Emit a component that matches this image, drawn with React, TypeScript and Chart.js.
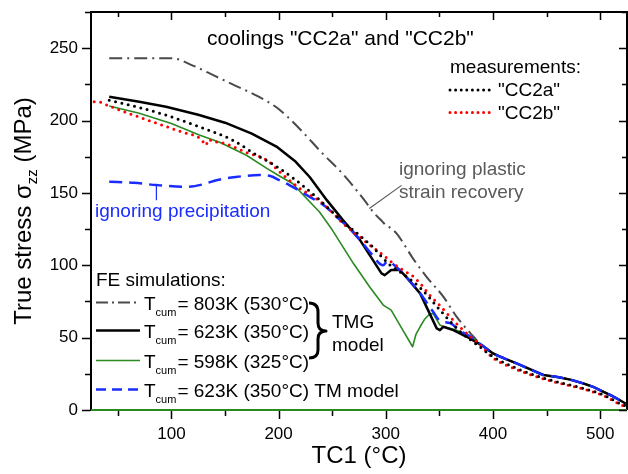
import React, { useEffect, useRef } from 'react';
import { Chart, registerables } from 'chart.js';

Chart.register(...registerables);

// ---- data (TC1 in °C, stress in MPa) ----
const x803 = [42, 70, 101, 120, 140, 160, 180, 200, 220, 240, 260, 280, 288, 297, 301, 304, 310, 326, 338, 354, 366, 379];
const y803 = [243, 243, 243, 238, 231, 224, 217, 208, 194, 178, 163, 145, 137, 130, 127, 126, 122, 104, 92, 78, 64.5, 53];

const x623 = [42, 70, 95, 125, 150, 175, 198, 216, 229, 245, 260, 276, 285, 296, 299, 305, 313, 319, 332, 347.5, 350.5, 353.6, 363, 375.5];
const y623 = [216.5, 213, 209.5, 204, 198.5, 191, 182, 171.5, 161, 145, 131.2, 117.4, 107, 94.4, 93.2, 96.7, 96.7, 92, 80.6, 56.4, 55.2, 57.5, 55.2, 50.6];

const x598 = [42, 70, 100, 126, 145, 170, 189, 200, 213, 225, 238, 250, 270, 285, 297.6, 305, 316, 325, 328, 332, 336, 340, 344, 350.5, 354, 366, 379];
const y598 = [210, 205, 198, 190, 185, 176, 167, 162, 156.5, 147, 137, 124.5, 101, 85, 72.5, 69, 55, 43.7, 52, 57.5, 62.5, 65.6, 66.8, 58.7, 57.5, 55.2, 50.6];

const xTM = [42, 65, 86, 114, 130, 142, 160, 182, 193, 200, 210, 229, 244, 254, 266, 276, 285, 297.6, 301, 304, 308, 316, 332, 344, 350, 360, 369, 381.6];
const yTM = [157.7, 157, 155.4, 154.2, 156, 158.8, 161, 162.3, 161.5, 159, 155.4, 147.3, 140.4, 133.5, 125.5, 117.5, 109.3, 100, 102.5, 102.4, 100, 94.4, 80.6, 68, 62, 60, 55, 49.5];

// common high-temperature part of all simulations
const xSimTail = [390, 395, 400, 411, 422, 435, 447, 460, 472, 484, 494, 503, 511, 518, 526];
const ySimTail = [44.5, 41.8, 39.1, 35.5, 32.2, 28, 24.2, 22.8, 21, 18.4, 15.8, 12.6, 9.8, 6.9, 3.5];

const xCC2a = [42, 70, 95, 125, 157, 182, 192, 214, 235, 245, 260, 275, 288, 296, 305, 316, 332, 350, 369, 388, 400, 422, 447, 484, 503, 518, 526];
const yCC2a = [214, 209, 203.7, 196, 186.5, 175, 171, 160, 147.3, 140.4, 130, 121, 112.5, 106, 99.5, 94, 84.5, 69.5, 54.5, 43.5, 36.8, 28.8, 22, 15, 10.4, 4.6, 2];

const xCC2b = [28, 31, 42, 60, 83, 110, 128, 132, 135, 138, 145, 170, 189, 201, 220, 229, 245, 260, 275, 285, 296, 305, 316, 326, 332, 341, 350, 360, 369, 379, 388, 400, 422, 447, 484, 503, 518, 526];
const yCC2b = [213, 213, 210, 205, 199, 192, 187, 183, 187, 185.5, 185, 178, 172.6, 164.6, 153, 149, 140.4, 129, 120, 114, 108, 102.4, 96.7, 92, 87.5, 79.4, 72.5, 64.4, 57.5, 50.6, 45, 36, 28, 21.5, 14.5, 10, 4, 1.5];

const xTicks = [50, 100, 150, 200, 250, 300, 350, 400, 450, 500];
const xLabels = [100, 200, 300, 400, 500];
const yTicks = [0, 25, 50, 75, 100, 125, 150, 175, 200, 225, 250, 275];
const yLabels = [0, 50, 100, 150, 200, 250];

const X_MIN = 25, X_MAX = 525, Y_MIN = 0, Y_MAX = 275;

const FONT = '"Liberation Sans", Arial, Helvetica, sans-serif';

const C_GREY = '#4a4a4a';
const C_BLACK = '#000000';
const C_GREEN = '#2a8a22';
const C_BLUE = '#1a2cff';
const C_RED = '#ff0000';

const DASH_DOT = [13, 5, 2, 5];
const DASH_BLUE = [13, 7];
const DOTS = [0, 6.5];

function pts(xs: number[], ys: number[]) {
  return xs.map((x, i) => ({ x, y: ys[i] }));
}

const overlay = {
  id: 'overlay',
  afterDatasetsDraw(chart: any) {
    const ctx: CanvasRenderingContext2D = chart.ctx;
    const xs = chart.scales.x;
    const ys = chart.scales.y;
    const a = chart.chartArea;
    const L = a.left, R = a.right, T = a.top, B = a.bottom;
    ctx.save();

    // frame
    ctx.lineWidth = 2;
    ctx.strokeStyle = '#000';
    ctx.beginPath();
    ctx.moveTo(L, B + 1); ctx.lineTo(L, T); ctx.lineTo(R, T); ctx.lineTo(R, B);
    ctx.stroke();
    ctx.strokeStyle = C_GREEN;
    ctx.beginPath();
    ctx.moveTo(L, B); ctx.lineTo(R, B);
    ctx.stroke();

    // ticks
    ctx.strokeStyle = '#000';
    ctx.lineWidth = 1.5;
    ctx.beginPath();
    xTicks.forEach((v) => {
      const p = Math.round(xs.getPixelForValue(v)) + 0.5;
      const major = v % 100 === 0;
      const len = major ? 8 : 5;
      ctx.moveTo(p, B + 1); ctx.lineTo(p, B + 1 + len);
      ctx.moveTo(p, T); ctx.lineTo(p, T + len);
    });
    yTicks.forEach((v) => {
      const p = Math.round(ys.getPixelForValue(v)) + 0.5;
      const major = v % 50 === 0;
      const len = major ? 8 : 5;
      ctx.moveTo(L - 1, p); ctx.lineTo(L - 1 - len, p);
      ctx.moveTo(R, p); ctx.lineTo(R - len, p);
    });
    ctx.stroke();

    // tick labels
    ctx.fillStyle = '#000';
    ctx.font = `17px ${FONT}`;
    ctx.textAlign = 'center';
    ctx.textBaseline = 'alphabetic';
    xLabels.forEach((v) => ctx.fillText(String(v), xs.getPixelForValue(v), 439));
    ctx.textAlign = 'right';
    ctx.textBaseline = 'middle';
    yLabels.forEach((v) => ctx.fillText(String(v), 78, ys.getPixelForValue(v)));

    // x title
    ctx.textAlign = 'center';
    ctx.textBaseline = 'alphabetic';
    ctx.font = `24px ${FONT}`;
    ctx.fillText('TC1 (°C)', (L + R) / 2, 463);

    // y title with subscript
    ctx.save();
    ctx.translate(31, (T + B) / 2);
    ctx.rotate(-Math.PI / 2);
    const fMain = `24px ${FONT}`;
    const fSub = `15px ${FONT}`;
    const s1 = 'True stress σ', s2 = 'zz', s3 = ' (MPa)';
    ctx.font = fMain; const w1 = ctx.measureText(s1).width; const w3 = ctx.measureText(s3).width;
    ctx.font = fSub; const w2 = ctx.measureText(s2).width;
    let cx = -(w1 + w2 + w3) / 2;
    ctx.textAlign = 'left';
    ctx.font = fMain; ctx.fillText(s1, cx, 0); cx += w1;
    ctx.font = fSub; ctx.fillText(s2, cx, 6); cx += w2;
    ctx.font = fMain; ctx.fillText(s3, cx, 0);
    ctx.restore();

    // title inside plot
    ctx.textAlign = 'left';
    ctx.font = `21px ${FONT}`;
    ctx.fillText('coolings "CC2a" and "CC2b"', 207, 45);

    // measurement legend
    ctx.font = `19px ${FONT}`;
    ctx.fillText('measurements:', 450, 73);
    ctx.fillText('"CC2a"', 498, 96);
    ctx.fillText('"CC2b"', 498, 119);
    const sample = (x0: number, x1: number, y: number, color: string, width: number, dash: number[], cap: CanvasLineCap) => {
      ctx.save();
      ctx.strokeStyle = color; ctx.lineWidth = width; ctx.setLineDash(dash); ctx.lineCap = cap;
      ctx.beginPath(); ctx.moveTo(x0, y); ctx.lineTo(x1, y); ctx.stroke();
      ctx.restore();
    };
    sample(450, 490, 90, C_BLACK, 3, [0, 5.6], 'round');
    sample(450, 490, 112.5, C_RED, 3, [0, 5.6], 'round');

    // annotation: ignoring plastic strain recovery
    ctx.fillStyle = '#5a5a5a';
    ctx.fillText('ignoring plastic', 399, 175);
    ctx.fillText('strain recovery', 399, 198);
    ctx.strokeStyle = '#5a5a5a'; ctx.lineWidth = 1.2;
    ctx.beginPath();
    ctx.moveTo(xs.getPixelForValue(284.6), ys.getPixelForValue(139.3));
    ctx.lineTo(xs.getPixelForValue(314.7), ys.getPixelForValue(155.2));
    ctx.stroke();

    // annotation: ignoring precipitation
    ctx.fillStyle = C_BLUE;
    ctx.fillText('ignoring precipitation', 95, 217);
    ctx.strokeStyle = C_BLUE; ctx.lineWidth = 1.2;
    ctx.beginPath();
    ctx.moveTo(xs.getPixelForValue(86), ys.getPixelForValue(156));
    ctx.lineTo(xs.getPixelForValue(86), ys.getPixelForValue(145));
    ctx.stroke();

    // FE simulation legend
    ctx.fillStyle = '#000';
    ctx.font = `19px ${FONT}`;
    ctx.fillText('FE simulations:', 96, 286);
    const rows = [
      { y: 310, c: C_GREY, w: 2, d: [12, 4, 2, 4], t: '= 803K (530°C)' },
      { y: 338, c: C_BLACK, w: 2.5, d: [], t: '= 623K (350°C)' },
      { y: 368, c: C_GREEN, w: 1.6, d: [], t: '= 598K (325°C)' },
      { y: 397, c: C_BLUE, w: 2.5, d: [10, 6], t: '= 623K (350°C) TM model' },
    ];
    rows.forEach((r) => {
      sample(96, 140, r.y - 7.5, r.c, r.w, r.d, 'butt');
      ctx.fillStyle = '#000';
      ctx.font = `19px ${FONT}`;
      ctx.fillText('T', 144, r.y);
      const tw = ctx.measureText('T').width;
      ctx.font = `11px ${FONT}`;
      ctx.fillText('cum', 144 + tw, r.y + 6);
      const cw = ctx.measureText('cum').width;
      ctx.font = `19px ${FONT}`;
      ctx.fillText(r.t, 144 + tw + cw + 1, r.y);
    });

    // brace + TMG model
    ctx.strokeStyle = '#000';
    ctx.lineWidth = 3;
    ctx.lineJoin = 'round';
    ctx.beginPath();
    ctx.moveTo(309, 303);
    ctx.quadraticCurveTo(318, 303, 318, 312);
    ctx.lineTo(318, 323);
    ctx.quadraticCurveTo(318, 331, 326, 331);
    ctx.quadraticCurveTo(318, 331, 318, 339);
    ctx.lineTo(318, 350);
    ctx.quadraticCurveTo(318, 358, 309, 358);
    ctx.stroke();
    ctx.fillText('TMG', 332, 328);
    ctx.fillText('model', 332, 351);

    ctx.restore();
  },
};

export default function App() {
  const ref = useRef<HTMLCanvasElement | null>(null);
  useEffect(() => {
    if (!ref.current) return;
    const smooth = { showLine: true, pointRadius: 0, pointHoverRadius: 0, fill: false, cubicInterpolationMode: 'monotone' as const };
    const straight = { showLine: true, pointRadius: 0, pointHoverRadius: 0, fill: false, tension: 0 };
    const chart = new Chart(ref.current, {
      type: 'scatter',
      data: {
        datasets: [
          { ...smooth, label: 'CC2a', data: pts(xCC2a, yCC2a), borderColor: C_BLACK, borderWidth: 3, borderDash: DOTS, borderCapStyle: 'round' },
          { ...smooth, label: 'CC2b', data: pts(xCC2b, yCC2b), borderColor: C_RED, borderWidth: 3, borderDash: DOTS, borderCapStyle: 'round' },
          { ...smooth, label: 'TM 623K', data: pts(xTM.concat(xSimTail), yTM.concat(ySimTail)), borderColor: C_BLUE, borderWidth: 2.5, borderDash: DASH_BLUE },
          { ...straight, label: 'TMG 623K', data: pts(x623.concat(xSimTail), y623.concat(ySimTail)), borderColor: C_BLACK, borderWidth: 2.5, borderJoinStyle: 'round' },
          { ...straight, label: 'TMG 598K', data: pts(x598.concat(xSimTail), y598.concat(ySimTail)), borderColor: C_GREEN, borderWidth: 1.6, borderJoinStyle: 'round' },
          { ...smooth, label: 'TMG 803K', data: pts(x803.concat(xSimTail), y803.concat(ySimTail)), borderColor: C_GREY, borderWidth: 2, borderDash: DASH_DOT },
        ],
      },
      options: {
        responsive: false,
        animation: false,
        devicePixelRatio: 1,
        layout: { padding: { left: 91, right: 1, top: 12, bottom: 64 } },
        scales: {
          x: { type: 'linear', min: X_MIN, max: X_MAX, display: false },
          y: { type: 'linear', min: Y_MIN, max: Y_MAX, display: false },
        },
        plugins: { legend: { display: false }, tooltip: { enabled: false }, title: { display: false } },
        events: [],
      },
      plugins: [overlay],
    });
    return () => chart.destroy();
  }, []);
  return (
    <div style={{ position: 'absolute', left: 0, top: 0, width: 628, height: 474, background: '#fff' }}>
      <canvas ref={ref} width={628} height={474} style={{ display: 'block' }} />
    </div>
  );
}
